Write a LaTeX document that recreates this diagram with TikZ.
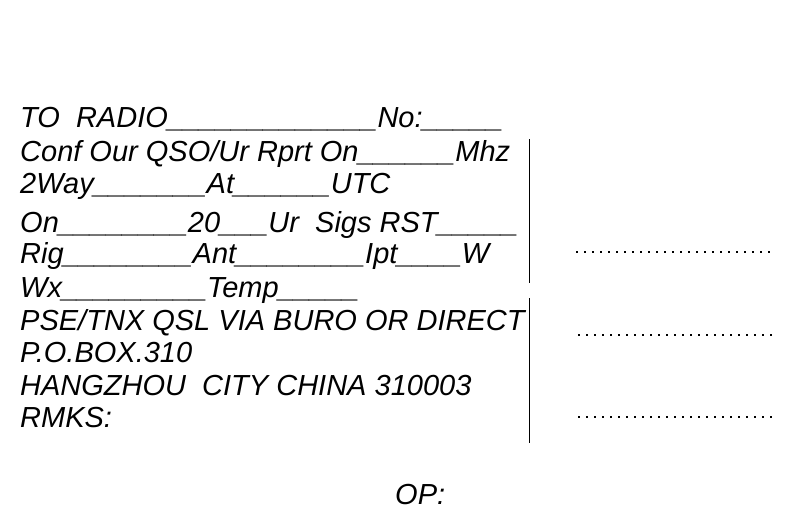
\documentclass[tikz,border=0pt]{standalone}
\usepackage{fontspec}
\setmainfont{Liberation Sans}
\begin{document}
\begin{tikzpicture}[x=1pt,y=1pt,
  txt/.style={anchor=base west,inner sep=0pt,font=\fontsize{29}{33}\selectfont\itshape},
  rule/.style={line width=1pt,black},
  dotrow/.style={line width=2pt,dash pattern=on 2pt off 6pt}]
\useasboundingbox (0,0) rectangle (800,-514);
\fill[white] (0,0) rectangle (800,-514);
\node[txt] (l1) at (20,-127) {TO\ \ RADIO\_\_\_\_\_\_\_\_\_\_\_\_\_No:\_\_\_\_\_};
\node[txt] (l2) at (20,-161) {Conf Our QSO/Ur Rprt On\_\_\_\_\_\_Mhz};
\node[txt] (l3) at (20,-193) {2Way\_\_\_\_\_\_\_At\_\_\_\_\_\_UTC};
\node[txt] (l4) at (20,-232) {On\_\_\_\_\_\_\_\_20\_\_\_Ur\ \ Sigs RST\_\_\_\_\_};
\node[txt] (l5) at (20,-263) {Rig\_\_\_\_\_\_\_\_Ant\_\_\_\_\_\_\_\_Ipt\_\_\_\_W};
\node[txt] (l6) at (20,-297) {Wx\_\_\_\_\_\_\_\_\_Temp\_\_\_\_\_};
\node[txt] (l7) at (20,-330) {PSE/TNX QSL VIA BURO OR DIRECT};
\node[txt] (l8) at (20,-362) {P.O.BOX.310};
\node[txt] (l9) at (20,-395) {HANGZHOU\ \ CITY CHINA 310003};
\node[txt] (l10) at (20,-427) {RMKS:};
\node[txt] (op) at (395,-504) {OP:};
\coordinate (v1a) at (529,-139);
\coordinate (v1b) at (529,-283);
\coordinate (v2a) at (529,-298);
\coordinate (v2b) at (529,-443);
\draw[rule] (v1a) -- (v1b);
\draw[rule] (v2a) -- (v2b);
\coordinate (d1a) at (576,-252);
\coordinate (d1b) at (770,-252);
\coordinate (d2a) at (578,-335);
\coordinate (d2b) at (772,-335);
\coordinate (d3a) at (578,-417);
\coordinate (d3b) at (772,-417);
\draw[dotrow] (d1a) -- (d1b);
\draw[dotrow] (d2a) -- (d2b);
\draw[dotrow] (d3a) -- (d3b);
\end{tikzpicture}
\end{document}
